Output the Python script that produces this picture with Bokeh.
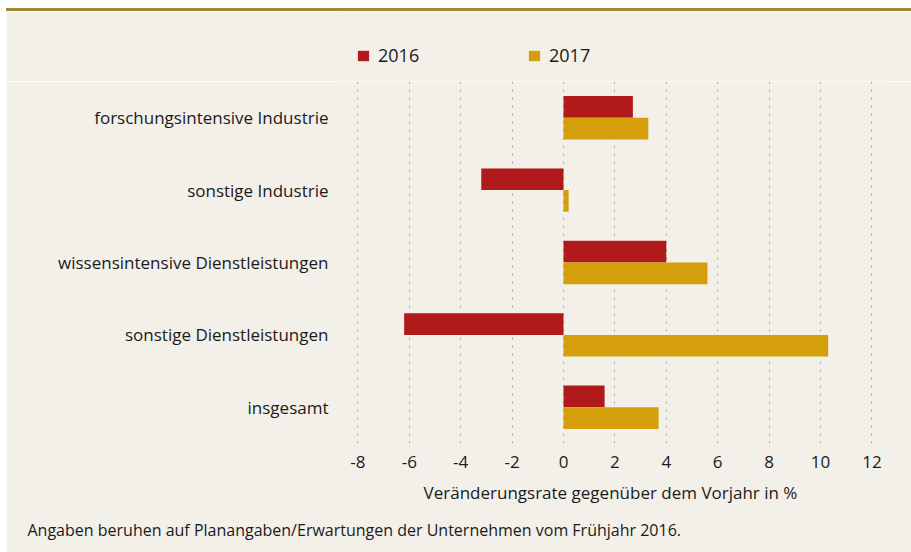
from bokeh.plotting import figure
from bokeh.models import FactorRange, Legend, LegendItem, FixedTicker, Title, Div, ColumnDataSource, Spacer
from bokeh.transform import dodge
from bokeh.layouts import column, row
from bokeh.embed import file_html
from bokeh.resources import INLINE

categories = [
    "forschungsintensive Industrie",
    "sonstige Industrie",
    "wissensintensive Dienstleistungen",
    "sonstige Dienstleistungen",
    "insgesamt",
]
values_2016 = [2.7, -3.2, 4.0, -6.2, 1.6]
values_2017 = [3.3, 0.2, 5.6, 10.3, 3.7]
series_names = ["2016", "2017"]
x_ticks = [-8, -6, -4, -2, 0, 2, 4, 6, 8, 10, 12]
x_title = "Veränderungsrate gegenüber dem Vorjahr in %"
footnote = "Angaben beruhen auf Planangaben/Erwartungen der Unternehmen vom Frühjahr 2016."

BG = "#F3F0E9"
RED = "#B01A1A"
GOLD = "#D49F0A"
TXT = "#1A1A1A"
FONT = "Open Sans"

source = ColumnDataSource(dict(cat=categories, v16=values_2016, v17=values_2017))

# ---------------- main chart ----------------
p = figure(
    width=905, height=471,
    y_range=FactorRange(factors=list(reversed(categories))),
    x_range=(-8.677, 12.335),
    output_backend="svg", toolbar_location=None,
    min_border_left=334, min_border_right=31, min_border_top=0, min_border_bottom=109,
)
p.background_fill_color = BG
p.border_fill_color = BG
p.outline_line_color = None

r16 = p.hbar(y=dodge("cat", 0.15, range=p.y_range), right="v16", left=0, height=0.3,
             source=source, fill_color=RED, line_color=None)
r17 = p.hbar(y=dodge("cat", -0.15, range=p.y_range), right="v17", left=0, height=0.3,
             source=source, fill_color=GOLD, line_color=None)

p.ygrid.grid_line_color = None
p.xgrid.ticker = FixedTicker(ticks=x_ticks)
p.xgrid.grid_line_color = "#A0A0A0"
p.xgrid.grid_line_dash = "2 6"
p.xgrid.grid_line_width = 1

xa = p.xaxis[0]
xa.ticker = FixedTicker(ticks=x_ticks)
xa.major_label_overrides = {t: str(t) for t in x_ticks}
xa.axis_line_color = None
xa.major_tick_line_color = None
xa.minor_tick_line_color = None
xa.major_tick_out = 0
xa.major_tick_in = 0
xa.major_label_standoff = 12
xa.major_label_text_font = FONT
xa.major_label_text_font_size = "17px"
xa.major_label_text_color = TXT
xa.axis_label = x_title
xa.axis_label_standoff = 10
xa.axis_label_text_font = FONT
xa.axis_label_text_font_size = "17px"
xa.axis_label_text_font_style = "normal"
xa.axis_label_text_color = TXT

ya = p.yaxis[0]
ya.axis_line_color = None
ya.major_tick_line_color = None
ya.minor_tick_line_color = None
ya.major_tick_out = 0
ya.major_tick_in = 0
ya.major_label_standoff = 12
ya.major_label_text_font = FONT
ya.major_label_text_font_size = "17px"
ya.major_label_text_color = TXT

note = Title(text=footnote, align="left", offset=-313, text_font=FONT,
             text_font_size="16px", text_font_style="normal", text_color=TXT, standoff=20)
p.add_layout(note, "below")

# ---------------- legend strip ----------------
lg = figure(width=905, height=70, output_backend="svg", toolbar_location=None,
            x_axis_type=None, y_axis_type=None, min_border=0,
            y_range=FactorRange(factors=list(reversed(categories))), x_range=(0, 1))
lg.background_fill_color = BG
lg.border_fill_color = BG
lg.outline_line_color = None
lg.grid.visible = False
d16 = lg.hbar(y="cat", right="v16", left=0, height=0.3, source=source,
              fill_color=RED, line_color=None, visible=False)
d17 = lg.hbar(y="cat", right="v17", left=0, height=0.3, source=source,
              fill_color=GOLD, line_color=None, visible=False)

legend = Legend(
    items=[LegendItem(label=series_names[0], renderers=[d16]),
           LegendItem(label=series_names[1], renderers=[d17])],
    orientation="horizontal",
    location=(16, 14),
    glyph_width=14, glyph_height=13,
    label_standoff=8, label_width=42, spacing=107,
    padding=0, margin=0,
    border_line_color=None, background_fill_alpha=0,
    inactive_fill_alpha=0,
    label_text_font=FONT, label_text_font_size="18px", label_text_color=TXT,
)
lg.add_layout(legend, "center")

bar = Div(text="", width=905, height=3, margin=0, styles={"background-color": "#A0883A"})
top_space = Spacer(width=905, height=8, margin=0)
left_space = Spacer(width=6, height=552, margin=0)
layout = row(left_space, column(top_space, bar, lg, p, spacing=0), spacing=0)

open("out.html", "w").write(file_html(layout, INLINE))
